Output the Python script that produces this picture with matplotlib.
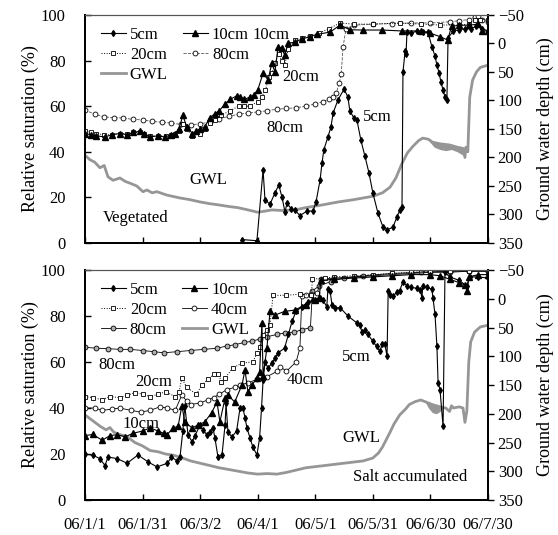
import matplotlib.pyplot as plt
import numpy as np
import pandas as pd
from matplotlib.lines import Line2D

plt.rcParams['font.family'] = ['Liberation Serif', 'DejaVu Serif']
plt.rcParams['font.size'] = 12

START = pd.Timestamp('2006-01-01')
END = pd.Timestamp('2006-07-30')

tick_dates = ['2006-01-01', '2006-01-31', '2006-03-02', '2006-04-01',
              '2006-05-01', '2006-05-31', '2006-06-30', '2006-07-30']
tick_labels = ['06/1/1', '06/1/31', '06/3/2', '06/4/1',
               '06/5/1', '06/5/31', '06/6/30', '06/7/30']

# ---- top panel: vegetated site (days since 2006-01-01) ----
veg_5cm_day = [81.8, 89.6, 92.8, 93.8, 96.4, 99.0, 101.0, 102.7, 104.2, 105.3, 107.4, 109.4,
               112.0, 115.7, 118.8, 120.4, 122.5, 123.5, 124.5, 126.6, 128.2, 129.3, 131.8,
               135.0, 137.0, 138.0, 140.0, 141.7, 143.8, 145.9, 148.0, 150.0, 152.7, 155.3,
               157.4, 160.5, 162.6, 164.1, 165.2, 165.7, 166.8, 167.3, 167.8, 170, 173, 176,
               178.7, 180.8, 182.4, 183.4, 184.5, 185.5, 186.6, 187.6, 188.6, 189.2, 192, 195,
               198, 201, 204, 207, 210]
veg_5cm = [1.5, 1.0, 32, 19, 17, 22, 25.4, 20, 13.6, 17.5, 15, 14.5,
           12, 14, 14, 18, 27.6, 35, 41, 46.5, 51, 57, 62.7,
           67.5, 64, 58, 55, 54, 45, 38, 30.7, 22, 13, 7,
           5.7, 7, 11.5, 14.5, 16, 75, 84, 83, 92.5, 92, 93, 92.5,
           92.5, 86, 82, 78, 74.6, 70.6, 67, 64, 62.7, 90, 93, 93.5,
           94, 94, 95, 94, 93]

veg_10cm_day = [0, 3, 6, 10.4, 14, 18, 22, 25, 28.7, 31, 34, 38, 41.7, 45, 47, 49, 51, 53, 56,
                58, 60, 62.5, 65, 67.5, 70, 73, 75.6, 79, 81, 83, 86, 88, 90, 92.8, 95.4, 97.4,
                99, 100.6, 102.5, 104, 106, 109.4, 113, 117, 121, 127.7, 133, 138, 145, 155,
                165, 175, 180, 185, 189, 191, 195, 200, 205, 207, 210]
veg_10cm = [48, 47.5, 47, 46.5, 47.5, 48, 47.5, 48.5, 49, 48, 46.5, 47, 46.5, 47.5, 48, 50, 56,
            51, 48, 49, 50, 51, 55, 56.5, 58, 61, 63, 64.5, 64, 63, 64, 65, 67, 74.5, 71.5, 79,
            75, 86, 85.5, 82.5, 87.7, 88, 89.5, 90.4, 91.5, 92.5, 95.6, 93.5, 93.4, 93.4,
            93, 93, 92, 90.5, 89, 95, 95.5, 95.5, 96, 93, 93]

veg_20cm_day = [0, 3, 6, 10, 14, 18, 22, 25, 28.7, 31, 34, 38, 42, 45, 47, 49, 51, 53, 56, 60,
                62.5, 65, 68, 71, 75.6, 80, 83, 86, 90, 92, 94, 96, 97.5, 99, 101, 102.5, 104,
                106, 109.4, 113, 117, 122, 127, 133, 140, 150, 164, 175, 185, 195, 200, 203,
                206, 210]
veg_20cm = [49, 48.5, 48, 47.5, 47.5, 48, 48, 48.5, 48.5, 48, 47, 47, 47, 47.5, 48, 49, 52, 50,
            47, 48, 50, 52.6, 54, 56, 58, 60, 60, 60, 62, 64, 67, 73, 74.5, 79, 83, 80, 78,
            85, 89, 90, 91, 92, 94, 96.5, 96, 96, 96.5, 96, 95.6, 95.6, 96, 98,
            98, 98]

veg_80cm_day = [0, 5, 10, 15, 20, 25, 30, 35, 40, 45, 50, 55, 60, 65, 70, 75, 80, 85, 90, 95,
                100, 105, 110, 115, 120, 124, 127, 129, 131, 132.5, 133.5, 134.5, 136, 140,
                150, 160, 170, 180, 190, 195, 200, 203, 205, 207, 210]
veg_80cm = [58.3, 56.5, 55.3, 55, 54.8, 54.2, 54, 53.3, 53, 52.6, 52, 51.8, 52.3, 53, 54.5,
            55.5, 56.5, 57, 57.5, 58, 58.7, 59, 59.3, 60, 61, 62, 63, 64, 66, 70, 74, 86, 94,
            95.5, 96, 96.2, 96.5, 96.5, 97, 97.5, 98, 99, 99.5, 98, 97]

veg_gwl_day = [0, 2.6, 5, 7.8, 10, 12, 14.6, 18.2, 21, 23.4, 27, 30.2, 32.3, 35, 37.5, 42.7,
               49.5, 54.7, 60, 65, 69.3, 75, 79.7, 85, 90, 94, 97.4, 103, 109.4, 115, 124,
               132, 140, 150, 155, 159, 162, 165, 168, 171, 174, 176, 179, 181, 185, 190, 194,
               197, 198, 198.5, 199.5, 200.5, 202, 204, 206, 210]
veg_gwl = [196, 204, 208, 218, 214, 234, 240, 236, 242, 245, 250, 260, 257, 262, 260, 266,
           271, 274, 278, 281, 283, 286, 288, 292, 296, 294, 292, 293, 292, 288, 283,
           278, 274, 268, 262, 252, 236, 212, 192, 180, 170, 166, 168, 173, 176, 178, 182,
           184, 200, 182, 190, 94, 64, 50, 42, 38]
# daily fluctuation band of the GWL record (shaded part)
veg_band_day = [179, 182, 185, 188, 191, 194, 197]
veg_band_low = [170, 182, 186, 188, 186, 190, 196]

# ---- bottom panel: salt accumulated site ----
salt_5cm_day = [0, 4, 7.8, 10.4, 12, 16.7, 22, 27.6, 32.8, 37.5, 43, 45, 48, 49.5, 51, 52, 53.7,
                55.8, 57.3, 60, 61.5, 63.6, 65, 66.7, 67.7, 69.3, 71.4, 73, 73.5, 74.5, 76.6,
                79, 80.8, 82.3, 83.4, 84.4, 86, 87.5, 89.6, 91, 92, 92.8, 93.8, 95.4, 97.5, 99,
                100.6, 104, 106, 108, 110, 113, 116, 119, 122.5, 124, 126, 126.6, 127.7, 128.7,
                130.3, 133, 137, 141.7, 143.3, 144.3, 146, 147.5, 150, 152, 153.7, 154.8, 156.3,
                157.4, 158, 159, 160.5, 162.6, 164, 165.7, 167.8, 170, 173, 174.6, 175.6, 176,
                178, 180.8, 181.3, 182.4, 183.4, 184, 185, 186.6, 187.6, 190, 195, 199, 200.6,
                205, 210]
salt_5cm = [20, 19.5, 18, 15, 18.7, 18, 16, 19.6, 16.6, 14.4, 16, 18.7, 17, 18.7, 30, 41, 28.4,
            25.3, 28, 32.6, 30.4, 28.3, 29.6, 31.3, 27, 18.7, 19.6, 32.6, 42, 29.6, 27.4,
            30, 40, 40, 35.7, 31.3, 27, 23, 19.6, 27, 40, 52, 60, 57.4, 59.6, 61.7,
            64, 66, 72, 78, 82, 84, 86, 87, 88, 87, 84, 91.6, 91, 85,
            83.6, 83.6, 80, 77, 76, 73, 74, 72, 69, 66.8, 64.6, 67.7, 67.7,
            62.4, 90.8, 89, 88.6, 90.4, 91, 95, 93, 92.5, 92, 91.5, 88, 93,
            92.5, 91.6, 88, 80.8, 66.8, 51, 48, 32, 99, 97, 95.5, 93, 97,
            97, 96.5]

salt_10cm_day = [0, 4, 9, 13, 16.7, 21, 25, 30, 34, 38, 41, 42.7, 46, 48.5, 50.5, 52, 55.8, 58.9,
                 62.5, 66, 68.8, 70.3, 73, 74.5, 78, 81.8, 83.4, 84.9, 87, 89.6, 91, 92.2, 92.8,
                 94.8, 96.4, 99, 104, 109.4, 115, 120, 122, 123, 130, 140, 150, 160, 170, 180,
                 185, 190, 195, 198, 199, 200, 205, 210]
salt_10cm = [28, 28.5, 26, 28, 28.4, 27.5, 29, 30, 31.4, 30, 29, 28.3, 31.4, 32, 41, 34, 31.3,
             32.6, 34, 38, 42.6, 34, 44.3, 45.7, 42.6, 50, 56.5, 47, 50, 53, 55.6, 77, 54,
             66, 82, 80.4, 82, 82.6, 85, 87, 88, 95.5, 96, 96.5, 97, 97.5, 98, 98,
             97.5, 96, 94.5, 93.5, 91, 97, 98, 98]

salt_20cm_day = [0, 4, 8.9, 13, 18, 22, 26, 30, 34, 38, 42, 47, 49, 50.5, 53, 58, 61, 64, 67,
                 69.5, 71, 73, 77, 82, 87.5, 89.6, 91, 92.8, 94.8, 96.4, 98, 105, 112, 118,
                 118.5, 125, 130, 140, 150, 160, 170, 180, 190, 200, 210]
salt_20cm = [45, 44.5, 43.6, 45, 44.5, 45.5, 46.7, 46, 45, 46, 47, 45, 47, 53, 49, 46, 50, 52.4,
             54.6, 55, 51.5, 53, 57.4, 59.6, 60, 64, 66.7, 71.8, 74, 76, 89, 89, 89.5, 89,
             96, 96.5, 97, 97.5, 98, 98.5, 99, 99.5, 99.5, 99.5, 99.5]

salt_40cm_day = [0, 5, 9, 14, 18, 24, 29, 34, 39, 43, 47, 50.5, 53, 55, 60, 64, 67, 70, 74, 78,
                 81, 85, 89.6, 95, 100, 101.6, 105, 110, 112, 113, 115, 118, 121, 123, 130,
                 140, 150, 160, 170, 180, 190, 200, 210]
salt_40cm = [40, 40, 39, 39.5, 40, 39, 38.2, 39, 40.5, 40, 39, 45.7, 43, 41.5, 42.2, 43.5, 44.5,
             46, 48, 49, 50, 51, 52.4, 53.7, 55.9, 58, 56, 60, 66, 88.6, 89, 89.5, 90, 96,
             96.5, 97, 97.5, 98, 98.5, 99, 99, 99.5, 99.5]

salt_80cm_day = [0, 6, 12, 18, 23.5, 30, 36, 41, 48, 55, 62, 69, 74, 78, 83, 87, 91, 95, 100,
                 104, 109, 113, 117.5, 118.5, 122, 128, 135, 145, 160, 175, 190, 200, 210]
salt_80cm = [66.4, 66, 65.8, 65.5, 65.5, 65, 64.5, 64, 64.5, 65, 65.5, 66, 67, 67.5, 68.5, 69,
             70, 71, 72, 72.6, 73, 74, 75, 91, 93, 95, 96.5, 97.5, 98.5, 99, 99.5, 99.5, 99.5]

salt_gwl_day = [0, 4, 8, 11, 13, 15, 18, 22, 26, 30, 34, 38, 42, 46, 50, 55, 60, 65, 70, 75, 80,
                85, 90, 95, 100, 105, 110, 115, 120, 125, 130, 135, 140, 145, 150, 153, 155,
                157, 159, 161, 164, 167, 169, 172, 175, 178, 181, 185, 188, 190, 191, 192, 195,
                197, 198, 199, 200, 201, 203, 206, 210]
salt_gwl = [202, 212, 222, 228, 224, 232, 236, 240, 250, 256, 264, 266, 270, 272, 276, 282, 286,
            290, 294, 297, 300, 303, 305, 304, 305, 302, 298, 294, 292, 290, 288, 286, 284,
            282, 277, 268, 258, 245, 232, 218, 202, 192, 184, 179, 176, 180, 184, 188, 190,
            196, 186, 190, 188, 190, 215, 195, 110, 75, 58, 49, 46]
salt_band_day = [177, 179, 181, 183, 185, 187]
salt_band_low = [178, 190, 198, 200, 196, 190]


def to_dates(days):
    return START + pd.to_timedelta(np.asarray(days, dtype=float), unit='D')


GWL_COLOR = '#969696'

styles = {
    '5cm': dict(color='black', lw=0.8, marker='d', ms=3, mfc='black', mec='black'),
    '10cm': dict(color='black', lw=0.8, marker='^', ms=4, mfc='black', mec='black'),
    '20cm': dict(color='black', lw=0.7, ls=':', marker='s', ms=3.5, mfc='white', mec='black', mew=0.6),
    '40cm': dict(color='black', lw=0.6, marker='o', ms=3.5, mfc='white', mec='black', mew=0.6),
    '80cm_top': dict(color='#555555', lw=0.6, ls='--', marker='o', ms=3.5, mfc='white', mec='black', mew=0.6),
    '80cm': dict(color='black', lw=0.6, marker='o', ms=3.5, mfc='#b0b0b0', mec='black', mew=0.6),
    'GWL': dict(color=GWL_COLOR, lw=2.0),
}


def style_axes(ax, ax2, show_xlabels):
    ax.set_xlim(START, END)
    ax.set_ylim(0, 100)
    ax.set_yticks([0, 20, 40, 60, 80, 100])
    ax.set_ylabel('Relative saturation (%)', fontsize=13, labelpad=1)
    ax.set_xticks(pd.to_datetime(tick_dates))
    if show_xlabels:
        ax.set_xticklabels(tick_labels)
    else:
        ax.set_xticklabels([])
    ax.tick_params(axis='both', direction='in', length=4, width=1, pad=14, labelsize=12)
    ax.tick_params(axis='x', pad=12)
    ax2.set_ylim(350, -50)
    ax2.set_yticks(np.arange(-50, 351, 50))
    ax2.set_ylabel('Ground water depth (cm)', fontsize=13, labelpad=9)
    ax2.tick_params(axis='y', direction='out', length=4, width=1, pad=3, labelsize=12)
    for a in (ax, ax2):
        for side in ('left', 'right', 'bottom'):
            a.spines[side].set_linewidth(1.3)
        a.spines['top'].set_linewidth(0.8)
        a.spines['top'].set_color('#555555')


legend_kw = dict(ncol=2, loc='upper left', frameon=False, fontsize=12, handlelength=1.5,
                 handletextpad=0.25, columnspacing=0.9, labelspacing=0.25, borderaxespad=0.3,
                 bbox_to_anchor=(0.01, 1.0))

fig = plt.figure(figsize=(5.58, 5.35), dpi=100)
ax_top = fig.add_axes([0.1523, 0.5458, 0.7222, 0.4262])
ax_bot = fig.add_axes([0.1523, 0.0654, 0.7222, 0.4299])

# top panel
axt2 = ax_top.twinx()
axt2.fill_between(to_dates(veg_band_day),
                  np.interp(veg_band_day, veg_gwl_day, veg_gwl), veg_band_low,
                  color=GWL_COLOR, lw=0)
axt2.plot(to_dates(veg_gwl_day), veg_gwl, **styles['GWL'])
ax_top.plot(to_dates(veg_80cm_day), veg_80cm, **styles['80cm_top'])
ax_top.plot(to_dates(veg_20cm_day), veg_20cm, **styles['20cm'])
ax_top.plot(to_dates(veg_10cm_day), veg_10cm, **styles['10cm'])
ax_top.plot(to_dates(veg_5cm_day), veg_5cm, **styles['5cm'])
ax_top.set_zorder(axt2.get_zorder() + 1)
ax_top.patch.set_visible(False)
style_axes(ax_top, axt2, False)

h_top = [Line2D([], [], **styles['5cm']), Line2D([], [], **styles['20cm']),
         Line2D([], [], **styles['GWL']), Line2D([], [], **styles['10cm']),
         Line2D([], [], **styles['80cm_top'])]
ax_top.legend(h_top, ['5cm', '20cm', 'GWL', '10cm', '80cm'], **legend_kw)

tt = ax_top.transAxes
ax_top.text(0.415, 0.912, '10cm', transform=tt, va='center')
ax_top.text(0.49, 0.728, '20cm', transform=tt, va='center')
ax_top.text(0.45, 0.504, '80cm', transform=tt, va='center')
ax_top.text(0.69, 0.553, '5cm', transform=tt, va='center')
ax_top.text(0.26, 0.276, 'GWL', transform=tt, va='center')
ax_top.text(0.045, 0.11, 'Vegetated', transform=tt, va='center')

# bottom panel
axb2 = ax_bot.twinx()
axb2.fill_between(to_dates(salt_band_day),
                  np.interp(salt_band_day, salt_gwl_day, salt_gwl), salt_band_low,
                  color=GWL_COLOR, lw=0)
axb2.plot(to_dates(salt_gwl_day), salt_gwl, **styles['GWL'])
ax_bot.plot(to_dates(salt_80cm_day), salt_80cm, **styles['80cm'])
ax_bot.plot(to_dates(salt_40cm_day), salt_40cm, **styles['40cm'])
ax_bot.plot(to_dates(salt_20cm_day), salt_20cm, **styles['20cm'])
ax_bot.plot(to_dates(salt_10cm_day), salt_10cm, **styles['10cm'])
ax_bot.plot(to_dates(salt_5cm_day), salt_5cm, **styles['5cm'])
ax_bot.set_zorder(axb2.get_zorder() + 1)
ax_bot.patch.set_visible(False)
style_axes(ax_bot, axb2, True)

h_bot = [Line2D([], [], **styles['5cm']), Line2D([], [], **styles['20cm']),
         Line2D([], [], **styles['80cm']), Line2D([], [], **styles['10cm']),
         Line2D([], [], **styles['40cm']), Line2D([], [], **styles['GWL'])]
ax_bot.legend(h_bot, ['5cm', '20cm', '80cm', '10cm', '40cm', 'GWL'], **legend_kw)

tb = ax_bot.transAxes
ax_bot.text(0.032, 0.587, '80cm', transform=tb, va='center')
ax_bot.text(0.124, 0.513, '20cm', transform=tb, va='center')
ax_bot.text(0.092, 0.33, '10cm', transform=tb, va='center')
ax_bot.text(0.50, 0.52, '40cm', transform=tb, va='center')
ax_bot.text(0.638, 0.62, '5cm', transform=tb, va='center')
ax_bot.text(0.638, 0.27, 'GWL', transform=tb, va='center')
ax_bot.text(0.665, 0.10, 'Salt accumulated', transform=tb, va='center')

fig.savefig('out.png', dpi=100)
